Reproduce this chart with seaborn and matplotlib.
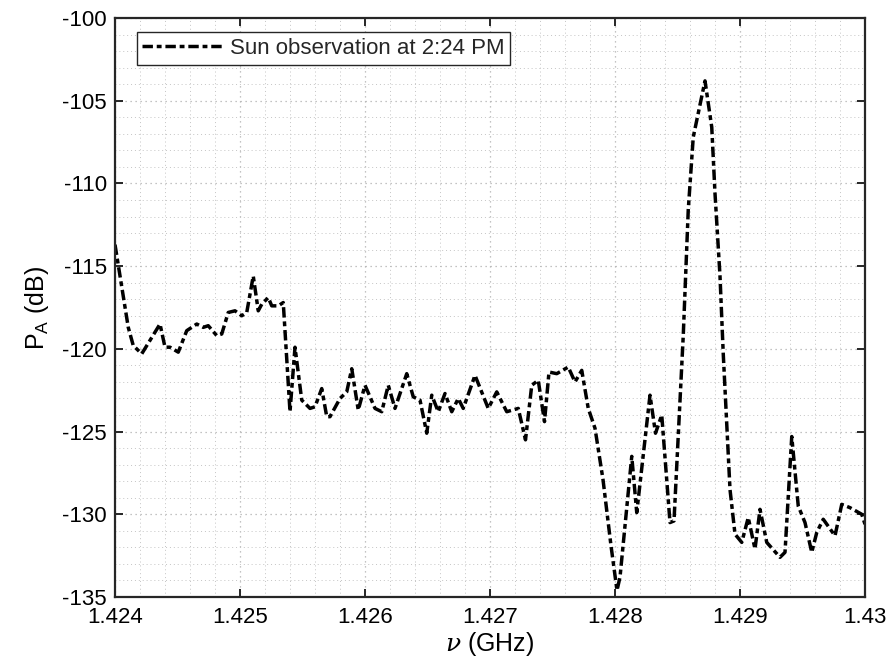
import numpy as np
import pandas as pd
import matplotlib
matplotlib.use("Agg")
import matplotlib.pyplot as plt
import seaborn as sns
from matplotlib.ticker import MultipleLocator, FixedLocator

# ---- data ----
freq_ghz = [1.424000, 1.424106, 1.424146, 1.424214, 1.424360, 1.424400, 1.424440, 1.424506,
            1.424574, 1.424654, 1.424706, 1.424746, 1.424814, 1.424854, 1.424906, 1.424960,
            1.425014, 1.425054, 1.425106, 1.425146, 1.425174, 1.425226, 1.425254, 1.425306,
            1.425346, 1.425400, 1.425440, 1.425494, 1.425560, 1.425600, 1.425654, 1.425694,
            1.425720, 1.425800, 1.425854, 1.425894, 1.425946, 1.426000, 1.426080, 1.426134,
            1.426186, 1.426240, 1.426334, 1.426386, 1.426440, 1.426494, 1.426534, 1.426586,
            1.426640, 1.426694, 1.426746, 1.426786, 1.426880, 1.426986, 1.427054, 1.427134,
            1.427226, 1.427284, 1.427334, 1.427386, 1.427436, 1.427472, 1.427534, 1.427626,
            1.427680, 1.427734, 1.427786, 1.427840, 1.427904, 1.427968, 1.428016, 1.428040,
            1.428134, 1.428174, 1.428280, 1.428324, 1.428374, 1.428440, 1.428472, 1.428546,
            1.428586, 1.428626, 1.428720, 1.428774, 1.428800, 1.428840, 1.428866, 1.428920,
            1.428960, 1.429014, 1.429066, 1.429120, 1.429160, 1.429214, 1.429320, 1.429360,
            1.429414, 1.429466, 1.429520, 1.429574, 1.429614, 1.429666, 1.429760, 1.429814,
            1.429880, 1.429974, 1.430000]
power_db = [-113.7, -118.7, -119.8, -120.3, -118.5, -119.9, -119.9, -120.2,
            -118.9, -118.5, -118.7, -118.6, -119.2, -119.1, -117.8, -117.7,
            -118.0, -117.8, -115.6, -117.7, -117.3, -116.9, -117.4, -117.4,
            -117.2, -123.8, -119.9, -123.1, -123.6, -123.5, -122.4, -124.1,
            -124.1, -123.0, -122.6, -121.2, -123.7, -122.2, -123.6, -123.8,
            -122.2, -123.6, -121.5, -122.9, -123.1, -125.1, -122.8, -123.8,
            -122.7, -123.8, -123.0, -123.6, -121.6, -123.6, -122.6, -123.8,
            -123.6, -125.5, -122.2, -121.9, -124.4, -121.4, -121.5, -121.1,
            -122.0, -121.3, -123.6, -124.8, -127.9, -131.9, -134.6, -133.8,
            -126.5, -129.9, -122.8, -125.1, -124.0, -130.5, -130.4, -119.2,
            -111.6, -107.2, -103.8, -106.6, -110.6, -115.6, -120.3, -128.5,
            -131.2, -131.7, -130.2, -132.1, -129.7, -131.7, -132.6, -132.3,
            -125.3, -129.5, -130.5, -132.3, -131.1, -130.3, -131.3, -129.4,
            -129.6, -130.0, -130.6]
series_label = "Sun observation at 2:24 PM"
x_tick_values = [1.424, 1.425, 1.426, 1.427, 1.428, 1.429, 1.430]
x_tick_labels = ["1.424", "1.425", "1.426", "1.427", "1.428", "1.429", "1.43"]
y_tick_values = [-135, -130, -125, -120, -115, -110, -105, -100]

df = pd.DataFrame({"freq": freq_ghz, "power": power_db, "series": series_label})

sns.set_style("ticks")
plt.rcParams["font.family"] = ["Liberation Sans", "DejaVu Sans"]
plt.rcParams["mathtext.fontset"] = "custom"
plt.rcParams["mathtext.rm"] = "Liberation Sans"
plt.rcParams["mathtext.it"] = "DejaVu Serif:italic"

axis_col = "#262626"
dash = (0, (3.0, 1.1, 1.4, 1.1))
fig = plt.figure(figsize=(8.9, 6.66), dpi=100)
ax = fig.add_axes([115 / 890, 69 / 666, 750 / 890, 579 / 666])

sns.lineplot(data=df, x="freq", y="power", hue="series", palette=["black"],
             estimator=None, sort=False, ax=ax, linewidth=2.5, legend=True)
for ln in ax.get_lines():
    ln.set_linestyle(dash)

ax.set_xlim(1.424, 1.430)
ax.set_ylim(-135, -100)
ax.xaxis.set_major_locator(FixedLocator(x_tick_values))
ax.set_xticklabels(x_tick_labels)
ax.yaxis.set_major_locator(FixedLocator(y_tick_values))
ax.set_yticklabels([str(v) for v in y_tick_values])
ax.xaxis.set_minor_locator(MultipleLocator(0.0002))
ax.yaxis.set_minor_locator(MultipleLocator(1))

ax.grid(which="major", linestyle=(0, (1, 3)), color="#b0b0b0", linewidth=0.9)
ax.grid(which="minor", linestyle=(0, (1, 3)), color="#c4c4c4", linewidth=0.7)
ax.set_axisbelow(True)

for sp in ax.spines.values():
    sp.set_visible(True)
    sp.set_color(axis_col)
    sp.set_linewidth(1.6)
ax.tick_params(which="major", direction="in", length=6, width=1.4, color=axis_col,
               top=True, right=True, labelsize=16, labelcolor="black")
ax.tick_params(axis="x", which="major", pad=7)
ax.tick_params(axis="y", which="major", pad=6)
ax.tick_params(which="minor", length=0, top=True, right=True)

ax.set_xlabel(r"$\nu$ (GHz)", fontsize=18, color="black", labelpad=2)
ax.set_ylabel(r"$\mathregular{P_A}$ (dB)", fontsize=18, color="black", labelpad=8)

handles, labels = ax.get_legend_handles_labels()
leg = ax.legend(handles=handles, labels=[series_label], loc="upper left",
                bbox_to_anchor=(0.029, 0.975), fontsize=16, frameon=True, fancybox=False,
                handlelength=3.6, handletextpad=0.35, borderpad=0.25, borderaxespad=0.0)
leg.get_frame().set_edgecolor(axis_col)
leg.get_frame().set_linewidth(1.0)
leg.get_frame().set_alpha(1)
for lh in leg.get_lines():
    lh.set_linestyle(dash)
    lh.set_linewidth(2.5)

fig.savefig("out.png", dpi=100)
